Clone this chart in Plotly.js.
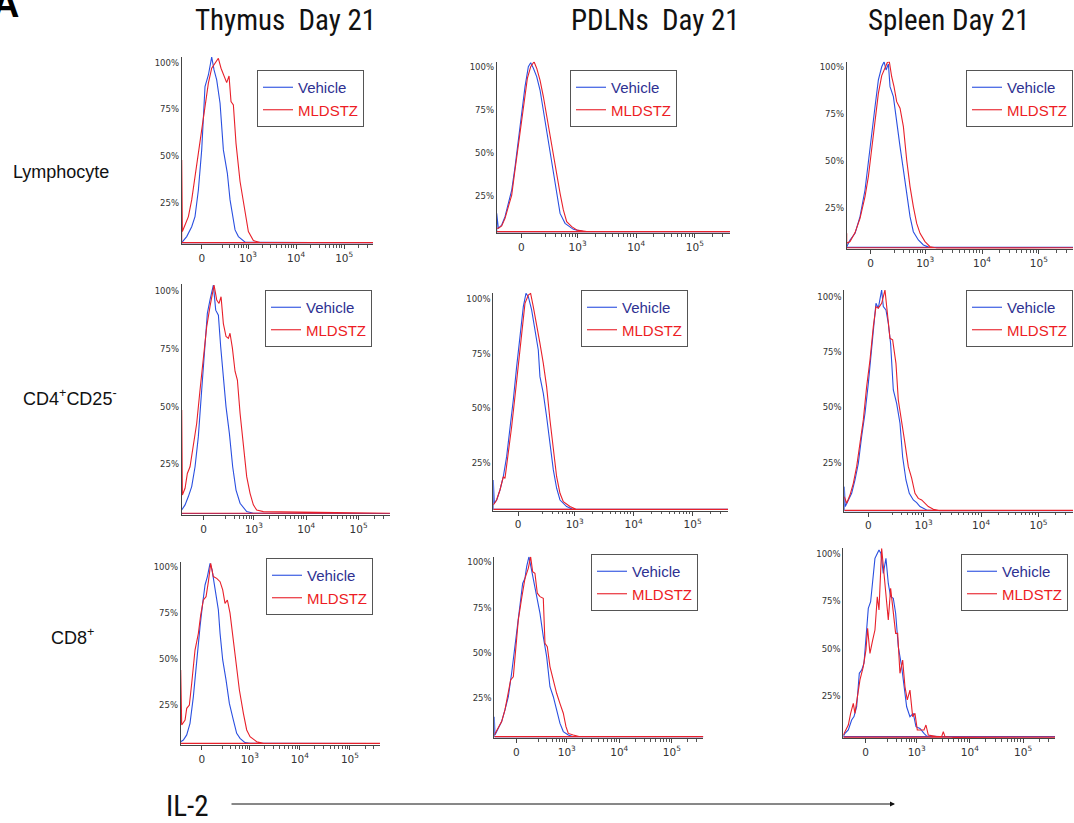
<!DOCTYPE html>
<html><head><meta charset="utf-8">
<script src="https://cdn.plot.ly/plotly-3.0.1.min.js"></script>
<style>html,body{margin:0;padding:0;background:#fff}#chart{width:1074px;height:823px}</style>
</head><body><div id="chart"></div>
<script>
// ---- axis description (display units of the biexponential IL-2 axis: decades at 3,4,5) ----
const xRange = [1.62, 5.6];
const majorTickVals = [2.04, 3, 4, 5];
const majorTickText = ['0', '10<sup>3</sup>', '10<sup>4</sup>', '10<sup>5</sup>'];
const minorTickVals = [2.46, 2.62, 2.72, 2.8, 2.86, 2.91, 2.96,
  3.301, 3.477, 3.602, 3.699, 3.778, 3.845, 3.903, 3.954,
  4.301, 4.477, 4.602, 4.699, 4.778, 4.845, 4.903, 4.954, 5.301, 5.477];
const yTickVals = [22, 47, 72, 97];
const yTickText = ['25%', '50%', '75%', '100%'];

const columns = ['Thymus\u00a0 Day 21', 'PDLNs\u00a0 Day 21', 'Spleen Day 21'];
const rows = ['Lymphocyte', 'CD4<sup>+</sup>CD25<sup>-</sup>', 'CD8<sup>+</sup>'];
const groups = ['Vehicle', 'MLDSTZ'];

// ---- histogram outlines (x: display units, y: % of max) ----
// Thymus / Lymphocyte
const thyLymVehX = [1.62,1.724,1.828,1.897,1.967,2.036,2.105,2.175,2.244,2.293,2.348,2.418,2.487,2.57,2.626,2.73,2.8,2.94,5.6,1.62];
const thyLymVehY = [0.9,4.1,9.4,14.8,29.0,50.4,84.2,90.4,99.9,93.1,87.8,75.3,50.4,37.9,23.7,7.7,4.1,1.1,0.8,0.8];
const thyLymMldX = [1.62,1.62,1.634,1.689,1.759,1.828,1.897,1.967,2.036,2.105,2.175,2.244,2.313,2.383,2.438,2.501,2.556,2.605,2.646,2.695,2.75,2.834,2.924,3.007,3.111,3.25,5.6,1.62];
const thyLymMldY = [0.9,45,6.8,10.3,14.8,23.7,36.1,50.4,62.8,75.3,86,94,96.7,99.3,94,89.5,86.3,89.9,76.2,74.4,53.9,33.5,18.3,6.8,2,0.9,0.9,0.9];
// PDLNs / Lymphocyte
const pdlLymVehX = [1.62,1.62,1.648,1.705,1.762,1.819,1.876,1.933,1.99,2.047,2.103,2.16,2.2,2.246,2.302,2.359,2.416,2.473,2.53,2.587,2.644,2.701,2.786,2.928,3.099,5.6,1.62];
const pdlLymVehY = [1.0,11.6,2.9,4.8,9.7,17.5,25.2,38.8,54.4,70.9,85.5,97.1,99.4,96.2,91.3,83.5,71.9,60.2,48.5,34.9,23.3,11.6,5.8,2.3,1.0,1.0,1.0];
const pdlLymMldX = [1.62,1.648,1.705,1.762,1.819,1.876,1.921,1.973,2.03,2.087,2.143,2.2,2.257,2.302,2.359,2.416,2.473,2.53,2.587,2.644,2.701,2.757,2.814,2.9,2.985,3.156,5.6,1.62];
const pdlLymMldY = [2.9,2.9,4.3,8.7,15.5,22.3,34.0,47.6,63.1,78.7,90.3,97.1,100,96.2,89.3,79.7,68.0,58.3,46.6,34.9,23.3,13.6,6.8,3.9,1.9,1.0,1.0,1.0];
// Spleen / Lymphocyte
const splLymVehX = [1.62,1.679,1.767,1.854,1.942,2.001,2.06,2.118,2.177,2.236,2.277,2.312,2.353,2.382,2.441,2.499,2.558,2.617,2.675,2.734,2.792,2.88,2.968,3.085,5.6,1.62];
const splLymVehY = [1.4,5.0,8.5,17.4,31.6,47.6,61.8,76.0,90.3,97.3,100,95.6,98.8,86.7,81.4,67.1,54.7,42.3,29.8,17.4,9.4,5.0,2.3,1.0,1.0,1.0];
const splLymMldX = [1.62,1.62,1.679,1.767,1.854,1.942,2.001,2.06,2.118,2.177,2.236,2.294,2.335,2.37,2.411,2.452,2.499,2.558,2.617,2.675,2.734,2.792,2.851,2.91,2.997,3.085,3.203,5.6,1.62];
const splLymMldY = [8.5,3.2,4.1,8.9,16.5,28.1,38.7,52.9,68.9,83.1,92.6,96.2,99.6,100,92.0,86.7,78.7,75.2,65.4,47.6,33.4,22.7,13.8,8.5,4.1,1.4,0.7,0.8,0.8];
// Thymus / CD4+CD25-
const thyCd4VehX = [1.62,1.684,1.747,1.811,1.875,1.938,2.002,2.066,2.11,2.161,2.225,2.27,2.321,2.365,2.416,2.467,2.531,2.594,2.658,2.735,2.862,2.989,5.6,1.62];
const thyCd4VehY = [2.3,4.5,8.1,12.4,21.0,34.0,54.2,72.9,87.3,93.1,99.5,88.7,86.5,72.9,58.5,46.9,35.4,21.0,10.9,5.2,1.6,0.9,0.8,0.8];
const thyCd4MldX = [1.62,1.62,1.633,1.684,1.728,1.779,1.843,1.907,1.97,2.034,2.098,2.161,2.206,2.238,2.289,2.333,2.372,2.416,2.467,2.512,2.543,2.588,2.639,2.684,2.735,2.798,2.862,2.926,2.989,3.053,3.18,5.6,1.62];
const thyCd4MldY = [8.8,45.5,8.8,11.7,18.1,21.0,29.7,39.8,54.2,67.1,81.6,90.3,95.9,99.5,93.1,91.6,94.5,82.9,77.3,76.5,78.7,72.4,62.3,58.5,44.1,29.7,16.7,9.5,4.5,2.3,1.6,0.9,0.9];
// PDLNs / CD4+CD25-
const pdlCd4VehX = [1.62,1.62,1.637,1.677,1.733,1.79,1.846,1.903,1.959,2.016,2.072,2.129,2.174,2.214,2.27,2.327,2.383,2.411,2.468,2.524,2.581,2.638,2.694,2.751,2.864,2.977,5.6,1.62];
const pdlCd4VehY = [0.6,14.1,3.4,4.9,9.5,15.6,24.8,37.0,50.8,66.1,81.3,93.6,99.7,98.2,92.1,82.9,73.7,61.5,53.8,43.1,30.9,18.7,10.3,4.9,1.9,0.6,0.6,0.6];
const pdlCd4MldX = [1.62,1.677,1.733,1.79,1.818,1.874,1.931,1.987,2.044,2.101,2.157,2.214,2.253,2.298,2.355,2.411,2.468,2.524,2.581,2.638,2.694,2.751,2.807,2.92,3.033,5.6,1.62];
const pdlCd4MldY = [2.6,4.9,9.5,15.6,14.8,26.3,38.5,52.3,67.6,82.9,95.1,98.9,99.7,93.6,85.9,76.8,67.6,56.9,41.6,27.8,15.6,8.0,4.1,1.9,0.6,0.6,0.6];
// Spleen / CD4+CD25-
const splCd4VehX = [1.62,1.62,1.637,1.69,1.748,1.806,1.864,1.922,1.98,2.038,2.096,2.136,2.171,2.212,2.241,2.27,2.299,2.345,2.386,2.426,2.473,2.531,2.589,2.635,2.693,2.751,2.821,2.879,2.937,3.053,3.169,5.6,1.62];
const splCd4VehY = [0.8,11.3,2.3,5.3,8.3,14.3,21.8,33.9,44.4,57.9,74.5,86.5,94.0,91.8,95.5,100,92.5,91.0,84.9,75.9,54.9,48.9,39.9,24.8,14.3,8.3,5.3,4.1,2.3,0.8,0.5,0.5,0.5];
const splCd4MldX = [1.62,1.661,1.719,1.777,1.835,1.893,1.951,2.009,2.067,2.125,2.171,2.212,2.27,2.328,2.368,2.415,2.461,2.519,2.56,2.618,2.676,2.734,2.792,2.85,2.908,2.966,3.024,3.082,3.169,3.285,5.6,1.62];
const splCd4MldY = [6.8,3.8,7.5,12.8,20.3,30.8,41.4,56.4,68.4,83.5,92.5,91.8,94.0,100,89.5,78.2,77.5,66.9,50.4,41.4,30.8,20.3,15.1,8.3,6.0,5.3,3.8,2.3,1.1,0.5,0.6,0.6];
// Thymus / CD8+
const thyCd8VehX = [1.62,1.673,1.74,1.806,1.873,1.94,2.006,2.059,2.106,2.153,2.206,2.246,2.292,2.339,2.372,2.406,2.459,2.525,2.592,2.672,2.738,2.805,2.905,3.005,5.6,1.62];
const thyCd8VehY = [1.8,2.7,5.5,11.8,26.4,46.4,64.6,77.3,87.3,91.9,99.1,95.5,88.2,80.9,73.7,60.9,46.4,35.5,22.7,13.6,6.4,3.6,1.3,0.9,0.8,0.8];
const thyCd8MldX = [1.62,1.62,1.64,1.707,1.74,1.793,1.84,1.906,1.973,2.019,2.073,2.126,2.173,2.219,2.272,2.339,2.406,2.459,2.505,2.552,2.605,2.658,2.725,2.792,2.872,2.938,3.005,3.138,3.271,5.6,1.62];
const thyCd8MldY = [11.8,40.9,10.9,13.6,20.0,21.8,33.7,51.8,60.9,70.9,79.1,80.9,89.1,99.1,91.9,90.9,89.1,84.6,77.3,79.1,71.9,59.1,44.6,30.0,17.3,8.2,4.5,1.8,0.9,0.9,0.9];
// PDLNs / CD8+
const pdlCd8VehX = [1.62,1.62,1.633,1.696,1.76,1.823,1.887,1.95,2.014,2.058,2.109,2.16,2.204,2.236,2.28,2.318,2.363,2.426,2.49,2.553,2.617,2.68,2.744,2.807,2.871,2.934,3.029,3.124,5.6,1.62];
const pdlCd8VehY = [0.9,11.9,1.8,5.5,9.2,15.6,22.9,35.8,50.5,63.3,72.4,85.3,88.1,94.5,100,94.5,89.0,79.9,68.8,56.0,45.0,28.4,22.9,15.6,8.2,3.7,1.8,0.9,0.9,0.9];
const pdlCd8MldX = [1.62,1.696,1.76,1.823,1.887,1.931,1.982,2.033,2.077,2.141,2.204,2.267,2.312,2.35,2.394,2.439,2.49,2.553,2.585,2.629,2.68,2.744,2.807,2.871,2.934,2.985,3.029,3.124,3.251,5.6,1.62];
const pdlCd8MldY = [1.8,5.5,9.2,15.6,24.8,32.1,33.9,48.6,65.2,77.1,88.1,93.6,100,91.8,90.9,79.9,78.0,77.1,52.3,50.5,39.5,32.1,24.8,19.1,13.8,6.4,2.7,1.8,0.9,0.9,0.9];
// Spleen / CD8+
const splCd8VehX = [1.62,1.651,1.714,1.777,1.821,1.871,1.921,1.965,2.009,2.059,2.09,2.134,2.172,2.215,2.259,2.291,2.328,2.372,2.422,2.466,2.51,2.56,2.604,2.654,2.717,2.761,2.811,2.873,2.936,2.986,3.061,3.137,3.187,3.437,5.6,1.62];
const splCd8VehY = [0.9,2.6,4.4,9.6,11.4,16.6,34.2,35.9,39.5,55.2,68.4,71.9,83.3,94.7,97.3,99.1,97.3,86.8,94.7,81.5,74.5,73.7,65.8,48.2,37.7,27.2,16.6,11.4,13.1,6.1,5.2,2.6,1.2,0.9,0.9,0.9];
const splCd8MldX = [1.62,1.664,1.714,1.758,1.808,1.839,1.871,1.933,1.996,2.046,2.077,2.121,2.172,2.215,2.259,2.291,2.341,2.385,2.422,2.466,2.51,2.56,2.604,2.642,2.685,2.736,2.779,2.823,2.873,2.924,2.967,3.011,3.074,3.137,3.174,3.218,3.375,3.469,3.5,3.531,3.688,5.6,1.62];
const splCd8MldY = [1.7,4.4,7.0,13.1,18.4,13.1,18.4,30.7,37.7,46.5,57.9,44.7,51.7,57.0,74.5,67.5,100,86.8,74.5,62.3,78.9,64.9,55.2,55.2,34.2,41.2,27.2,20.2,25.4,11.4,13.1,4.4,4.4,4.4,7.0,1.7,0.9,0.9,3.5,0.9,0.5,0.6,0.6];

const series = [
  [thyLymVehX, thyLymVehY, thyLymMldX, thyLymMldY],
  [pdlLymVehX, pdlLymVehY, pdlLymMldX, pdlLymMldY],
  [splLymVehX, splLymVehY, splLymMldX, splLymMldY],
  [thyCd4VehX, thyCd4VehY, thyCd4MldX, thyCd4MldY],
  [pdlCd4VehX, pdlCd4VehY, pdlCd4MldX, pdlCd4MldY],
  [splCd4VehX, splCd4VehY, splCd4MldX, splCd4MldY],
  [thyCd8VehX, thyCd8VehY, thyCd8MldX, thyCd8MldY],
  [pdlCd8VehX, pdlCd8VehY, pdlCd8MldX, pdlCd8MldY],
  [splCd8VehX, splCd8VehY, splCd8MldX, splCd8MldY]
];

// ---- layout geometry (pixels) ----
const W = 1074, H = 823;
const boxes = [ // [left, right, top, bottom] of each plot area
  [181.7, 373, 57, 244.3], [496.7, 730, 61.7, 233.3], [846.7, 1073, 61.7, 249.3],
  [181.7, 390, 284, 515.3], [493.3, 728, 292.7, 510.7], [844.3, 1073, 290, 511.7],
  [180.7, 380, 561.7, 745], [494.3, 703.3, 556.7, 738.3], [843.3, 1055, 548.3, 738.3]
];
const legendPos = [[257, 70], [570, 70], [966, 70], [265, 290], [581, 290], [966, 290], [266, 558], [591, 554], [961, 554]];

const vehLine = '#2a4fe0', mldLine = '#e8202a';
const vehText = '#2e3192', mldText = '#ed1c24';
const tickFont = {family: 'DejaVu Sans, Verdana, sans-serif', size: 8.5, color: '#333'};

const traces = [];
const layout = {
  width: W, height: H, margin: {l: 0, r: 0, t: 0, b: 0},
  paper_bgcolor: '#fff', plot_bgcolor: 'rgba(0,0,0,0)',
  showlegend: true, annotations: []
};

series.forEach((s, i) => {
  const n = i === 0 ? '' : String(i + 1);
  const lg = 'legend' + n;
  const b = boxes[i];
  traces.push({x: s[0], y: s[1], xaxis: 'x' + n, yaxis: 'y' + n, type: 'scatter', mode: 'lines',
    line: {color: vehLine, width: 1.1}, name: '<span style="color:' + vehText + '">' + groups[0] + '</span>',
    legend: lg, hoverinfo: 'skip'});
  traces.push({x: s[2], y: s[3], xaxis: 'x' + n, yaxis: 'y' + n, type: 'scatter', mode: 'lines',
    line: {color: mldLine, width: 1.1}, name: '<span style="color:' + mldText + '">' + groups[1] + '</span>',
    legend: lg, hoverinfo: 'skip'});
  layout['xaxis' + n] = {
    domain: [b[0] / W, b[1] / W], range: xRange, anchor: 'y' + n,
    showline: true, linecolor: '#444', linewidth: 1, zeroline: false, showgrid: false,
    tickmode: 'array', tickvals: majorTickVals, ticktext: majorTickText,
    ticks: 'outside', ticklen: 4, tickcolor: '#444',
    tickfont: {family: 'DejaVu Sans, Verdana, sans-serif', size: 10.5, color: '#333'},
    minor: {tickmode: 'array', tickvals: minorTickVals, ticks: 'outside', ticklen: 2.5, tickcolor: '#555'},
    fixedrange: true
  };
  layout['yaxis' + n] = {
    domain: [1 - b[3] / H, 1 - b[2] / H], range: [0, 100], anchor: 'x' + n,
    showline: true, linecolor: '#444', linewidth: 1, zeroline: false, showgrid: false,
    tickmode: 'array', tickvals: yTickVals, ticktext: yTickText, ticks: '',
    tickfont: tickFont, fixedrange: true
  };
  layout[lg] = {
    x: legendPos[i][0] / W, y: 1 - legendPos[i][1] / H, xanchor: 'left', yanchor: 'top',
    bgcolor: '#fff', bordercolor: '#555', borderwidth: 1, tracegroupgap: 0,
    font: {family: 'Liberation Sans, Arial, sans-serif', size: 15}
  };
});

const titleFont = {family: 'Liberation Sans Narrow, Roboto Condensed, Roboto, sans-serif', size: 29, color: '#111'};
const colCenters = [285, 655, 948];
columns.forEach((c, j) => layout.annotations.push({text: c, x: colCenters[j] / W, y: 1 - 20 / H,
  xref: 'paper', yref: 'paper', showarrow: false, xanchor: 'center', yanchor: 'middle', font: titleFont}));
const rowCenters = [[61, 172], [70, 397], [72, 636]];
rows.forEach((r, j) => layout.annotations.push({text: r, x: rowCenters[j][0] / W, y: 1 - rowCenters[j][1] / H,
  xref: 'paper', yref: 'paper', showarrow: false, xanchor: 'center', yanchor: 'middle',
  font: {family: 'Liberation Sans, Arial, sans-serif', size: 18, color: '#111'}}));
layout.annotations.push({text: '<b>A</b>', x: 5 / W, y: 1 - 4 / H, xref: 'paper', yref: 'paper', showarrow: false,
  xanchor: 'center', yanchor: 'middle', font: {family: 'Liberation Sans, Arial, sans-serif', size: 38, color: '#000'}});
layout.annotations.push({text: 'IL-2', x: 187 / W, y: 1 - 806 / H, xref: 'paper', yref: 'paper', showarrow: false,
  xanchor: 'center', yanchor: 'middle', font: titleFont});
layout.annotations.push({text: '', x: 895 / W, y: 1 - 804 / H, xref: 'paper', yref: 'paper', showarrow: true,
  ax: -665, ay: 0, axref: 'pixel', ayref: 'pixel', arrowhead: 2, arrowsize: 1, arrowwidth: 1, arrowcolor: '#111'});

Plotly.newPlot('chart', traces, layout, {displayModeBar: false, staticPlot: true});
</script></body></html>
